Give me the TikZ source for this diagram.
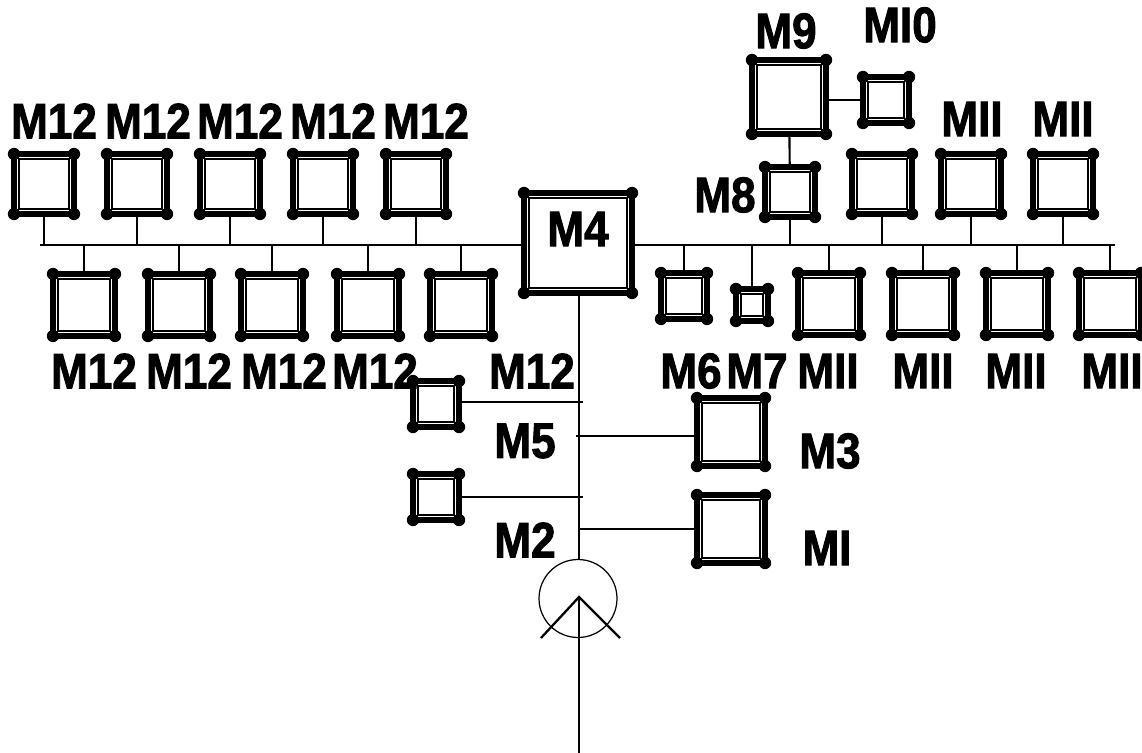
\documentclass[tikz,border=0pt]{standalone}
\usepackage{fontspec}
\setmainfont[FakeStretch=.88,BoldFeatures={FakeBold=1.8}]{Liberation Sans}
\newcommand{\frm}[5]{% name, x, y, width, height
\node[frm,minimum width=#4*.02cm,minimum height=#5*.02cm] (#1) at (#2,#3){};
\draw[inframe] ([shift={(5,5)}]#1.north west) rectangle ([shift={(-5,-5)}]#1.south east);
\foreach \c in {north west,north east,south west,south east}\fill (#1.\c) circle (6.2);}
\tikzset{frm/.style={draw,line width=3.6pt,inner sep=0pt,outer sep=0pt},inframe/.style={line width=.9pt},
lbl/.style={font=\bfseries\fontsize{28.5}{30}\selectfont,inner sep=0pt},wire/.style={line width=1.2pt}}
\begin{document}
\begin{tikzpicture}[x=.02cm,y=-.02cm]
\useasboundingbox (0,0) rectangle (1142,753);
\coordinate (busl) at (40,245);\coordinate (busr) at (1115,245);\coordinate (foot) at (579,774);
% upper row, left
\foreach \n/\x in {t1/44,t2/137,t3/230,t4/323,t5/416}{\frm{\n}{\x}{184}{60}{60}\draw[wire] (\n)--(\n |- busl);}
% lower row, left
\foreach \n/\x in {b1/84,b2/179,b3/272,b4/368,b5/461}{\frm{\n}{\x}{305}{62}{62}\draw[wire] (\n)--(\n |- busl);}
\frm{mfour}{578}{243}{108}{100}
\draw[wire] (busl)--(mfour.west |- busl);\draw[wire] (mfour.east |- busr)--(busr);
% right side
\frm{msix}{684}{296}{46}{46}\draw[wire] (msix)--(msix |- busr);
\frm{mseven}{752}{305}{32}{32}\draw[wire] (mseven)--(mseven |- busr);
\foreach \n/\x in {r1/829,r2/923,r3/1017,r4/1110}{\frm{\n}{\x}{304}{62}{62}\draw[wire] (\n)--(\n |- busr);}
\foreach \n/\x in {s1/882,s2/971,s3/1063}{\frm{\n}{\x}{184}{60}{60}\draw[wire] (\n)--(\n |- busr);}
\frm{meight}{790}{192}{50}{50}\draw[wire] (meight)--(meight |- busr);
\frm{mnine}{789}{97}{74}{74}\draw[wire] (mnine)--(meight);
\frm{mten}{886}{100}{46}{46}\draw[wire] (mnine.east |- mten)--(mten);
% branches off the stem
\frm{ma}{436}{404}{46}{46}\frm{mb}{436}{497}{46}{46}
\frm{mthree}{731}{432}{68}{68}\frm{mone}{731}{529}{68}{68}
\coordinate (sa) at (583,402);\coordinate (sb) at (583,497);\coordinate (sc) at (576,436);\coordinate (sd) at (578,529);
\draw[wire] (ma.east |- sa)--(sa);\draw[wire] (mb.east |- sb)--(sb);
\draw[wire] (sc)--(mthree.west |- sc);\draw[wire] (sd)--(mone.west |- sd);
% motor
\node[draw,circle,line width=.7pt,minimum size=1.56cm,inner sep=0pt] (mot) at (578,598.5){};
\coordinate (apex) at (579,597);\coordinate (cl) at (541,638);\coordinate (cr) at (620,638);
\draw[line width=1.3pt] (cl)--(apex)--(cr);
\draw[wire] (mfour.south -| foot)--(mot.north -| foot);\draw[wire] (apex)--(foot);
% labels
\foreach \n/\x in {l1/54,l2/148,l3/240,l4/333,l5/426}\node[lbl] (\n) at (\x,121){M12};
\foreach \n/\x in {l6/94,l7/189,l8/284,l9/375,l10/532}\node[lbl] (\n) at (\x,371){M12};
\foreach \n/\x in {l11/828,l12/923,l13/1016,l14/1112}\node[lbl] (\n) at (\x,371){MII};
\foreach \n/\x in {l15/972,l16/1063}\node[lbl] (\n) at (\x,119){MII};
\node[lbl] (l17) at (691,371){M6};\node[lbl] (l26) at (757,371){M7};\node[lbl] (l18) at (786,31){M9};\node[lbl] (l19) at (900,25){MI0};
\node[lbl] (l20) at (725,195){M8};\node[lbl] (l21) at (578,229){M4};\node[lbl] (l22) at (525,441){M5};
\node[lbl] (l23) at (525,540){M2};\node[lbl] (l24) at (830,451){M3};\node[lbl] (l25) at (827,548){MI};
\end{tikzpicture}
\end{document}
